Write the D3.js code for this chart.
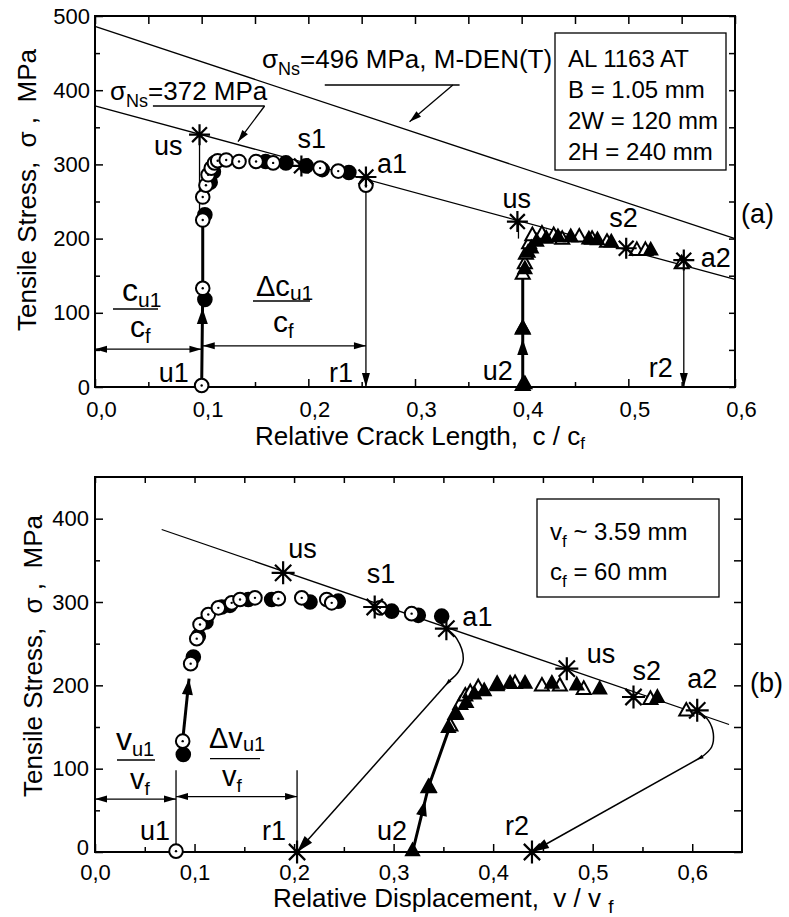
<!DOCTYPE html>
<html><head><meta charset="utf-8">
<script src="https://cdn.jsdelivr.net/npm/d3@7"></script>
<style>
body{margin:0;background:#fff;}
svg text{font-family:"Liberation Sans",Arial,sans-serif;fill:#000;}
.tick text{font-size:22px;}
.tick line{stroke:#000;stroke-width:1.5;}
</style></head><body>
<svg id="chart" width="789" height="917"></svg>
<script>
// ---------------- DATA ----------------
const xTickValsA = [0,0.1,0.2,0.3,0.4,0.5,0.6];
const xTickValsB = [0,0.1,0.2,0.3,0.4,0.5,0.6];
const xTickLabels = ["0,0","0,1","0,2","0,3","0,4","0,5","0,6"];
const xMinorA = [0.05,0.15,0.25,0.35,0.45,0.55];
const xMinorB = [0.05,0.15,0.25,0.35,0.45,0.55];
const yTickValsA = [0,100,200,300,400,500];
const yTickLabelsA = ["0","100","200","300","400","500"];
const yMinorA = [50,150,250,350,450];
const yTickValsB = [0,100,200,300,400];
const yTickLabelsB = ["0","100","200","300","400"];
const yMinorB = [50,150,250,350];

// panel (a): stress vs relative crack length
const aOpenCircles = [[0.100,2],[0.101,133],[0.101,225],[0.101,256],[0.104,272],[0.106,286],[0.109,295],[0.112,302],[0.115,305],[0.123,306],[0.135,304],[0.151,304],[0.167,302],[0.211,295],[0.228,291],[0.254,272]];
const aFilledCircles = [[0.103,118],[0.103,232],[0.108,276],[0.111,290],[0.160,304],[0.179,302],[0.198,298],[0.213,293],[0.238,289]];
const aOpenTri = [[0.401,3],[0.401,79],[0.401,153],[0.403,167],[0.404,180],[0.407,194],[0.410,205],[0.419,207],[0.430,205],[0.438,200],[0.454,203],[0.466,200],[0.480,196],[0.508,185],[0.516,185],[0.550,167]];
const aFilledTri = [[0.403,5],[0.401,80],[0.403,160],[0.406,182],[0.409,188],[0.414,197],[0.423,201],[0.434,203],[0.446,203],[0.463,200],[0.471,199],[0.484,196],[0.521,185]];
const aStars = [{l:"us",c:0.098,s:340},{l:"s1",c:0.1935,s:298},{l:"a1",c:0.254,s:283},{l:"us",c:0.396,s:223},{l:"s2",c:0.498,s:187},{l:"a2",c:0.552,s:171}];
const aLine372 = [[0,379],[0.6,145]];
const aLine496 = [[0,486],[0.6,200]];
const aLoad1 = [[0.100,0],[0.101,133],[0.101,225]];
const aLoad2 = [[0.401,0],[0.401,79],[0.401,153]];
const aLegend = ["AL 1163 AT","B = 1.05 mm","2W = 120 mm","2H = 240 mm"];

// panel (b): stress vs relative displacement
const bOpenCircles = [[0.0814,1],[0.0881,133],[0.0961,226],[0.1022,256],[0.1055,273],[0.1138,285],[0.1239,293],[0.1373,299],[0.1457,303],[0.1607,305],[0.1842,304],[0.2077,305],[0.2328,303],[0.2378,299],[0.2863,293],[0.3181,286]];
const bFilledCircles = [[0.0887,117],[0.0988,234],[0.1038,259],[0.1115,276],[0.1273,294],[0.1356,296],[0.154,303],[0.1775,303],[0.216,300],[0.2444,301],[0.2981,289],[0.3248,284],[0.3483,283]];
const bOpenTri = [[0.335,78],[0.357,152],[0.362,166],[0.367,178],[0.372,188],[0.377,192],[0.385,198],[0.404,202],[0.422,203],[0.449,200],[0.467,200],[0.491,196],[0.558,184],[0.594,170]];
const bFilledTri = [[0.319,2],[0.336,78],[0.355,150],[0.363,166],[0.373,180],[0.381,190],[0.391,194],[0.404,200],[0.417,203],[0.432,203],[0.459,203],[0.484,201],[0.507,196],[0.565,186]];
const bStars = [{l:"us",c:0.189,s:335},{l:"s1",c:0.281,s:294},{l:"a1",c:0.353,s:268},{l:"us",c:0.474,s:220},{l:"s2",c:0.541,s:186},{l:"a2",c:0.605,s:170},{l:"r1",c:0.203,s:0},{l:"r2",c:0.439,s:0}];
const bFitLine = [[0.067,387],[0.637,153]];
const bLoad1 = [[0.088,133],[0.0945,208]];
const bLoad2 = [[0.319,0],[0.335,78],[0.357,152]];
const bUnload1 = [[0.353,268],[0.3634,256],[0.370,232],[0.365,216],[0.3566,206]];
const bUnload1End = [0.203,0];
const bUnload2 = [[0.605,170],[0.6162,158],[0.6212,142],[0.6195,126],[0.6095,114]];
const bUnload2End = [0.439,0];
const bLegend = [["v","f"," ~ 3.59 mm"],["c","f"," = 60 mm"]];

// ---------------- DRAWING ----------------
const NB = "\u00A0";
const svg = d3.select("#chart");
const xA = d3.scaleLinear().domain([0,0.6]).range([95,735]);
const yA = d3.scaleLinear().domain([0,500]).range([387,16]);
const xB = d3.scaleLinear().domain([0,0.65]).range([95,742]);
const yB = d3.scaleLinear().domain([0,450]).range([852,477]);

function axes(x,y,xMaj,xLab,xMin,yMaj,yLab,yMin,o){
  const [x0,x1]=x.range(), [y0,y1]=y.range();
  const g=svg.append("g");
  const b=g.append("g").attr("transform",`translate(0,${y0})`)
    .call(d3.axisBottom(x).tickValues(xMaj).tickSize(-8).tickPadding(o.xPad).tickFormat((d,i)=>xLab[i]));
  b.selectAll("text").attr("dx",o.xShift);
  g.append("g").attr("transform",`translate(0,${y0})`).call(d3.axisBottom(x).tickValues(xMin).tickSize(-5).tickFormat(""));
  g.append("g").attr("transform",`translate(0,${y1})`).call(d3.axisTop(x).tickValues(xMaj.concat(xMin)).tickSize(-o.topT).tickFormat(""));
  const l=g.append("g").attr("transform",`translate(${x0},0)`).call(d3.axisLeft(y).tickValues(yMaj).tickSize(-8).tickPadding(o.yPad).tickFormat((d,i)=>yLab[i]));
  l.selectAll("text").filter(d=>d===0).attr("dy",o.zeroDy);
  g.append("g").attr("transform",`translate(${x0},0)`).call(d3.axisLeft(y).tickValues(yMin).tickSize(-5).tickFormat(""));
  g.append("g").attr("transform",`translate(${x1},0)`).call(d3.axisRight(y).tickValues(yMaj.concat(yMin)).tickSize(-o.rightT).tickFormat(""));
  g.selectAll(".domain").remove();
  g.selectAll("g").attr("font-family",null).attr("font-size",null);
  g.append("rect").attr("x",x0).attr("y",y1).attr("width",x1-x0).attr("height",y0-y1)
    .attr("fill","none").attr("stroke","#000").attr("stroke-width",2);
}
function poly(x,y,pts,w,curve){
  const l=d3.line().x(d=>x(d[0])).y(d=>y(d[1]));
  if(curve) l.curve(curve);
  return svg.append("path").attr("d",l(pts)).attr("fill","none").attr("stroke","#000").attr("stroke-width",w).attr("stroke-linejoin","round");
}
function head(px,py,tx,ty,L,W){
  const a=Math.atan2(ty-py,tx-px), bx=tx-L*Math.cos(a), by=ty-L*Math.sin(a);
  const nx=-Math.sin(a)*W/2, ny=Math.cos(a)*W/2;
  svg.append("path").attr("d",`M${tx},${ty}L${bx+nx},${by+ny}L${bx-nx},${by-ny}Z`).attr("fill","#000");
}
function arrowAt(x,y,p0,p1,t,L,W){
  const X0=x(p0[0]),Y0=y(p0[1]),X1=x(p1[0]),Y1=y(p1[1]);
  head(X0,Y0,X0+(X1-X0)*t,Y0+(Y1-Y0)*t,L,W);
}
function circles(x,y,pts,filled,r){
  pts.forEach(d=>{
    svg.append("circle").attr("cx",x(d[0])).attr("cy",y(d[1])).attr("r",r)
      .attr("fill",filled?"#000":"#fff").attr("stroke","#000").attr("stroke-width",2);
    if(!filled) svg.append("circle").attr("cx",x(d[0])).attr("cy",y(d[1])).attr("r",1.2).attr("fill","#000");
  });
}
function tris(x,y,pts,filled,hw){
  pts.forEach(d=>{
    const cx=x(d[0]),cy=y(d[1]);
    svg.append("path").attr("d",`M${cx},${cy-hw*1.05}L${cx+hw},${cy+hw*0.75}L${cx-hw},${cy+hw*0.75}Z`)
      .attr("fill",filled?"#000":"#fff").attr("stroke","#000").attr("stroke-width",2).attr("stroke-linejoin","miter");
  });
}
function stars(x,y,pts,r){
  pts.forEach(d=>{
    const cx=x(d.c),cy=y(d.s); let p="";
    for(let k=0;k<4;k++){const a=k*Math.PI/4;
      p+=`M${cx-r*Math.cos(a)},${cy-r*Math.sin(a)}L${cx+r*Math.cos(a)},${cy+r*Math.sin(a)}`;}
    svg.append("path").attr("d",p).attr("stroke","#000").attr("stroke-width",2.2).attr("fill","none");
  });
}
function label(px,py,str,size,anchor){
  return svg.append("text").attr("x",px).attr("y",py).attr("font-size",size).attr("text-anchor",anchor||"start").text(str);
}
function subText(px,py,main,sub,rest,size,subSize,shift){
  const t=svg.append("text").attr("x",px).attr("y",py).attr("font-size",size);
  t.append("tspan").text(main);
  t.append("tspan").attr("font-size",subSize).attr("dy",shift).text(sub);
  if(rest) t.append("tspan").attr("dy",-shift).text(rest);
  return t;
}
function hline(x1,x2,y,w){svg.append("line").attr("x1",x1).attr("x2",x2).attr("y1",y).attr("y2",y).attr("stroke","#000").attr("stroke-width",w||1.3);}

// ======== PANEL (a) ========
axes(xA,yA,xTickValsA,xTickLabels,xMinorA,yTickValsA,yTickLabelsA,yMinorA,{xPad:14,xShift:6,yPad:5,topT:8,rightT:6,zeroDy:"0.32em"});
poly(xA,yA,aLine372,1.3);
poly(xA,yA,aLine496,1.3);
// guide lines
poly(xA,yA,[[aStars[0].c,aStars[0].s],[aStars[0].c,225]],1.3);
poly(xA,yA,[[aStars[3].c+0.001,aStars[3].s],[aStars[3].c+0.001,200]],1.3);
poly(xA,yA,[[aStars[2].c,272],[aStars[2].c,0]],1.3);
head(xA(aStars[2].c),yA(40),xA(aStars[2].c),yA(0),14,8);
poly(xA,yA,[[aStars[5].c,aStars[5].s],[aStars[5].c,0]],1.3);
head(xA(aStars[5].c),yA(40),xA(aStars[5].c),yA(0),14,8);
// dimension arrows
poly(xA,yA,[[0,51],[0.0998,51]],1.3);
head(xA(0.05),yA(51),xA(0),yA(51),12,7); head(xA(0.05),yA(51),xA(0.0998),yA(51),12,7);
poly(xA,yA,[[0.101,55.5],[0.254,55.5]],1.3);
head(xA(0.2),yA(55.5),xA(0.101),yA(55.5),12,7); head(xA(0.15),yA(55.5),xA(0.254),yA(55.5),12,7);
// loading paths
poly(xA,yA,aLoad1,3);
arrowAt(xA,yA,aLoad1[0],aLoad1[1],0.8,16,11);
poly(xA,yA,aLoad2,3);
arrowAt(xA,yA,aLoad2[0],aLoad2[1],0.82,16,11);
// markers
circles(xA,yA,aFilledCircles,true,6.8);
circles(xA,yA,aOpenCircles,false,6.8);
tris(xA,yA,aOpenTri,false,7);
tris(xA,yA,aFilledTri,true,6.5);
stars(xA,yA,aStars,10.5);
// point labels
label(xA(aStars[0].c)-17,yA(aStars[0].s)+20,"us",27,"end");
label(xA(aStars[1].c)-4,yA(aStars[1].s)-18,"s1",27);
label(xA(aStars[2].c)+11,yA(aStars[2].s)-4,"a1",27);
label(xA(aStars[3].c)-15,yA(aStars[3].s)-14,"us",27);
label(xA(aStars[4].c)-17,yA(aStars[4].s)-21,"s2",27);
label(xA(aStars[5].c)+17,yA(aStars[5].s)+7,"a2",27);
label(xA(0.1)-43,yA(0)-5,"u1",27);
label(xA(aStars[2].c)-37,yA(0)-5,"r1",27);
label(xA(0.401)-40,yA(0)-7,"u2",27);
label(xA(aStars[5].c)-35,yA(0)-10,"r2",27);
// fractions
subText(122,301,"c","u1",null,32,21,6);
hline(113,158,309);
subText(130,337,"c","f",null,30,20,6);
subText(256,296,"\u0394c","u1",null,29,21,4);
hline(253,310,301);
subText(273,332,"c","f",null,30,20,6);
// sigma annotations
subText(110,100,"\u03C3","Ns","=372 MPa",26,18,7);
hline(xA(0.0543),xA(0.159),yA(378.7));
poly(xA,yA,[[0.159,378.7],[0.134,330.6]],1.3);
head(xA(0.159),yA(378.7),xA(0.134),yA(330.6),12,7);
subText(262,68,"\u03C3","Ns","=496 MPa, M-DEN(T)",26,18,7);
hline(xA(0.2154),xA(0.3418),yA(407));
poly(xA,yA,[[0.3355,407],[0.2949,357.5]],1.3);
head(xA(0.3355),yA(407),xA(0.2949),yA(357.5),12,7);
// legend box
svg.append("rect").attr("x",555).attr("y",33).attr("width",171).attr("height",137).attr("fill","#fff").attr("stroke","#000").attr("stroke-width",1.3);
aLegend.forEach((s,i)=>label(568,67+i*31,s,24));
label(741,223,"(a)",27);
// axis titles
{const t=svg.append("text").attr("x",255).attr("y",445).attr("font-size",26);
 t.append("tspan").text("Relative Crack Length,"+NB+NB+"c / c");
 t.append("tspan").attr("font-size",17).attr("dy",4).text("f");}
svg.append("text").attr("transform","translate(36,190) rotate(-90)").attr("text-anchor","middle").attr("font-size",26).text("Tensile Stress,"+NB+NB+"\u03C3"+NB+","+NB+NB+"MPa");

// ======== PANEL (b) ========
axes(xB,yB,xTickValsB,xTickLabels,xMinorB,yTickValsB,yTickLabelsB,yMinorB,{xPad:12,xShift:0,yPad:6,topT:6,rightT:8,zeroDy:"0.1em"});
poly(xB,yB,bFitLine,1.3);
// guide lines
poly(xB,yB,[[bOpenCircles[0][0],0],[bOpenCircles[0][0],98]],1.3);
poly(xB,yB,[[bStars[6].c,0],[bStars[6].c,98]],1.3);
poly(xB,yB,[[0,63.5],[bOpenCircles[0][0],63.5]],1.3);
head(xB(0.04),yB(63.5),xB(0),yB(63.5),12,7); head(xB(0.04),yB(63.5),xB(bOpenCircles[0][0]),yB(63.5),12,7);
poly(xB,yB,[[bOpenCircles[0][0],66.5],[bStars[6].c,66.5]],1.3);
head(xB(0.15),yB(66.5),xB(bOpenCircles[0][0]),yB(66.5),12,7); head(xB(0.15),yB(66.5),xB(bStars[6].c),yB(66.5),12,7);
// unloading
poly(xB,yB,bUnload1,1.5,d3.curveCatmullRom);
poly(xB,yB,[bUnload1[bUnload1.length-1],bUnload1End],1.5);
arrowAt(xB,yB,bUnload1[bUnload1.length-1],bUnload1End,1,17,10);
arrowAt(xB,yB,bUnload1[bUnload1.length-1],bUnload1End,0.03,7,4);
poly(xB,yB,bUnload2,1.5,d3.curveCatmullRom);
poly(xB,yB,[bUnload2[bUnload2.length-1],bUnload2End],1.5);
arrowAt(xB,yB,bUnload2[bUnload2.length-1],bUnload2End,1,17,10);
arrowAt(xB,yB,bUnload2[bUnload2.length-1],bUnload2End,0.03,7,4);
// loading
poly(xB,yB,bLoad1,3);
arrowAt(xB,yB,bLoad1[0],bLoad1[1],1,16,11);
poly(xB,yB,bLoad2,3);
arrowAt(xB,yB,bLoad2[0],bLoad2[1],0.8,16,11);
// markers
circles(xB,yB,bFilledCircles,true,6.8);
circles(xB,yB,bOpenCircles,false,6.8);
tris(xB,yB,bOpenTri,false,7);
tris(xB,yB,bFilledTri,true,6.5);
stars(xB,yB,bStars,11.5);
// labels
label(xB(bStars[0].c)+5,yB(bStars[0].s)-15,"us",27);
label(xB(bStars[1].c)-8,yB(bStars[1].s)-24,"s1",27);
label(xB(bStars[2].c)+16,yB(bStars[2].s)-3,"a1",27);
label(xB(bStars[3].c)+20,yB(bStars[3].s)-6,"us",27);
label(xB(bStars[4].c)-1,yB(bStars[4].s)-17,"s2",27);
label(xB(bStars[5].c)-10,yB(bStars[5].s)-22,"a2",27);
label(140,840,"u1",27);
label(262,840,"r1",27);
label(377,840,"u2",27);
label(505,835,"r2",27);
// fractions
subText(116,750,"v","u1",null,32,20,6);
hline(117,155,760);
subText(130,789,"v","f",null,29,19,6);
subText(209,748,"\u0394v","u1",null,29,20,3);
hline(210,260,758.7);
subText(222,786,"v","f",null,29,19,6);
// legend
svg.append("rect").attr("x",537).attr("y",499).attr("width",182).attr("height",98).attr("fill","#fff").attr("stroke","#000").attr("stroke-width",1.3);
bLegend.forEach((p,i)=>subText(550,540+i*40,p[0],p[1],p[2],24,17,7));
label(750,692,"(b)",27);
// axis titles
{const t=svg.append("text").attr("x",273).attr("y",907).attr("font-size",26);
 t.append("tspan").text("Relative Displacement,"+NB+NB+"v / v"+NB);
 t.append("tspan").attr("font-size",19).attr("dy",6).text("f");}
svg.append("text").attr("transform","translate(42,656) rotate(-90)").attr("text-anchor","middle").attr("font-size",26).text("Tensile Stress,"+NB+NB+"\u03C3"+NB+","+NB+NB+"MPa");
</script>
</body></html>
